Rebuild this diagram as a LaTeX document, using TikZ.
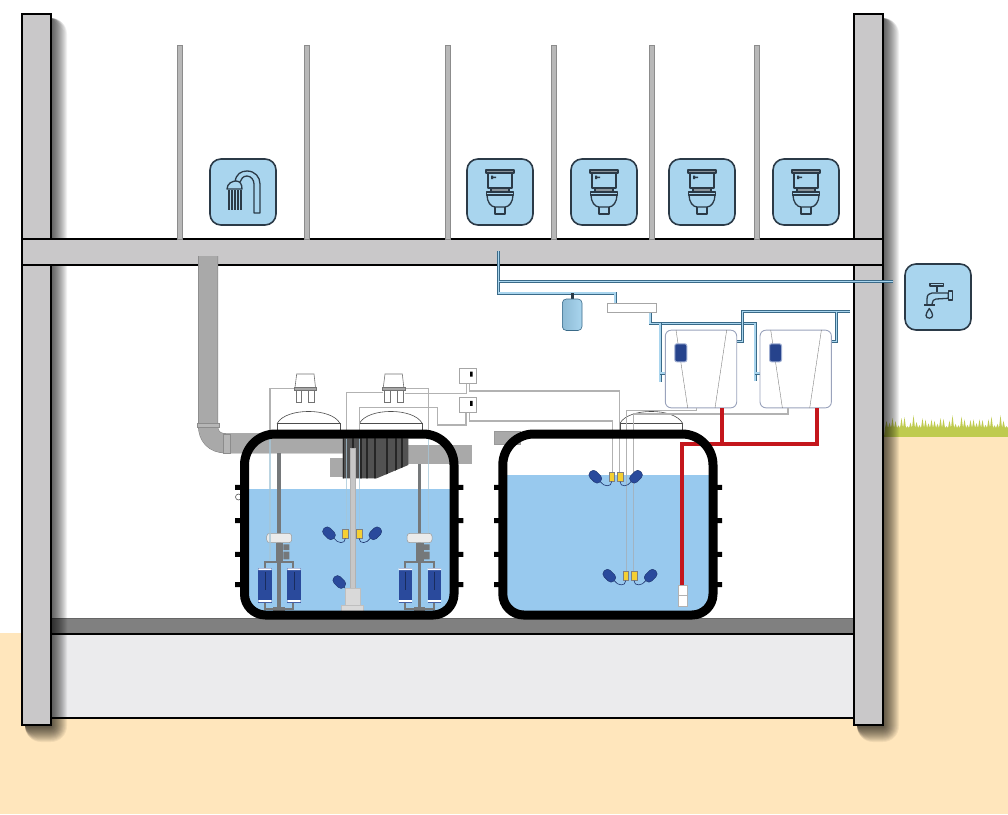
\documentclass[tikz,border=0pt]{standalone}
\definecolor{sand}{HTML}{FFE6BC}
\definecolor{grass}{HTML}{BFCB4F}
\definecolor{wallgrey}{HTML}{C9C8C9}
\definecolor{floorgrey}{HTML}{808080}
\definecolor{footing}{HTML}{EBEBED}
\definecolor{tilefill}{HTML}{A9D5EE}
\definecolor{iconline}{HTML}{2B3A47}
\definecolor{tankwater}{HTML}{98C9EE}
\definecolor{pipeblue}{HTML}{3A6A88}
\definecolor{drain}{HTML}{A9A9A9}
\definecolor{pumpgrey}{HTML}{75787A}
\definecolor{navy}{HTML}{2A4A9C}
\definecolor{clip}{HTML}{F5D033}
\definecolor{redline}{HTML}{C4161C}
\definecolor{softline}{HTML}{9AA3BC}
\tikzset{
  wallbar/.style={draw=black, line width=1.2pt, fill=wallgrey},
  partition/.style={draw=black!45, line width=.5pt, fill=black!28},
  icontile/.style={draw=iconline, line width=1.6pt, fill=tilefill, rounded corners=11pt, minimum size=66pt, inner sep=0pt},
  iconpen/.style={draw=iconline, line width=1.3pt, line join=round},
  waterpipe/.style={draw=pipeblue, line width=.9pt, double=tilefill, double distance=1.2pt},
  wire/.style={draw=black!30, line width=1.3pt},
  palewire/.style={draw=black!12!tilefill!85, line width=1.3pt},
  tankwire/.style={draw=black!35!tankwater!60, line width=1.3pt},
  drainpipe/.style={draw=black!50, line width=.5pt, double=drain, double distance=19pt},
  redpipe/.style={draw=redline, line width=3.8pt},
  floatball/.style={draw=navy!70!black, line width=.4pt, fill=navy, rounded corners=4pt, minimum width=9pt, minimum height=14pt, inner sep=0pt},
  clipbox/.style={draw=black!50, line width=.4pt, fill=clip, minimum width=5.5pt, minimum height=9pt, inner sep=0pt},
  cable/.style={draw=navy!70!black, line width=.6pt},
  softener/.style={draw=softline, line width=.9pt, fill=white, rounded corners=6pt, minimum width=71.4pt, minimum height=77.7pt, inner sep=0pt},
  ctrlbox/.style={draw=black!35, line width=.7pt, fill=white, minimum width=17.4pt, minimum height=15pt, inner sep=0pt},
  pics/toileticon/.style={code={
    \draw[iconpen] (-12,-19) rectangle (12,-4);
    \draw[iconpen, fill=iconline!55] (-14,-22) rectangle (14,-19);
    \draw[iconpen, fill=iconline!55] (-9,-4) rectangle (9,0);
    \draw[iconpen] (-13.5,0) rectangle (13.5,3);
    \draw[iconpen] (-13,3) .. controls (-13,10) and (-9,15) .. (-5,15) -- (5,15) .. controls (9,15) and (13,10) .. (13,3);
    \draw[iconpen] (-5,15) -- (-5,22) -- (5,22) -- (5,15);
    \fill[iconline] (-9,-15.5) rectangle (-4,-14) (-9,-16.5) rectangle (-7,-13);
  }},
  pics/showericon/.style={code={
    \draw[iconpen] (-8,-10) .. controls (-7,-18) and (-2,-21) .. (4,-21) .. controls (12,-21) and (17,-15) .. (17,-8) -- (17,21) -- (11,21) -- (11,-8) .. controls (11,-12) and (8,-16) .. (4,-16) .. controls (0,-16) and (-2,-13) .. (-3,-10);
    \draw[iconpen, fill=tilefill] (-16,-3) .. controls (-16,-9) and (-10,-11) .. (-7,-11) .. controls (-3,-11) and (-1,-8) .. (-1,-3) -- cycle;
    \foreach \bx in {-14,-11,-8,-5,-2} {\draw[iconline, line width=1.2pt] (\bx,-2) -- (\bx,18);}
  }},
  pics/tapicon/.style={code={
    \draw[iconpen] (-8,-13.7) -- (5.5,-13.7) -- (5.5,-11) -- (-8,-11) -- cycle;
    \draw[iconpen] (-1,-11) -- (-1,-5);
    \draw[iconpen] (-11,7) -- (-11,2) .. controls (-11,-2) and (-9,-4) .. (-6,-4) -- (10.3,-4) -- (10.3,1.3) -- (-2,2) .. controls (-4,2) and (-6,4) .. (-6,7);
    \draw[iconpen] (10.3,-6) rectangle (14.7,3);
    \draw[iconpen] (-14,8) -- (-3,8);
    \draw[iconpen] (-8.7,11.5) .. controls (-11,15) and (-12,17) .. (-12,18.5) .. controls (-12,22) and (-5.4,22) .. (-5.4,18.5) .. controls (-5.4,17) and (-6.4,15) .. (-8.7,11.5) -- cycle;
  }},
  pics/capunit/.style={code={
    \draw[draw=black!55, line width=.6pt, fill=white] (-8.8,374) -- (8.5,374) -- (10,387.3) -- (-10.5,387.3) -- cycle;
    \draw[draw=black!55, line width=.6pt, fill=black!35] (-11.5,387.3) rectangle (11.2,390);
    \draw[draw=black!55, line width=.6pt, fill=white] (-9.5,390) rectangle (-4,402.3);
    \draw[draw=black!55, line width=.6pt, fill=white] (3,390) rectangle (9,402.3);
  }},
  pics/manhole/.style={code={
    \draw[draw=black!70, line width=.6pt, fill=white] (-31.3,423.3) .. controls (-23,407.5) and (23,407.5) .. (31.3,423.3) -- cycle;
    \draw[draw=black!70, line width=.6pt, fill=white] (-31.3,423.3) rectangle (31.3,431);
  }},
  pics/softenerfront/.style={code={
    \draw[black!50, line width=.4pt] (-25,-39) -- (-13.3,39) (25.7,-39) -- (14,39);
    \draw[draw=navy!45, line width=1pt, fill=navy!90!black, rounded corners=2pt] (-26.2,-25.2) rectangle (-14.2,-7.2);
  }},
  pics/pump/.style={code={
    \draw[draw=pumpgrey, line width=2pt] (-14,568) -- (-14,562) -- (14.3,562) -- (14.3,568);
    \draw[draw=pumpgrey, line width=2pt] (-14,603) -- (-14,609) -- (14.3,609) -- (14.3,603);
    \foreach \cx in {-14,15} {
      \fill[navy] (\cx-6.7,568.3) rectangle (\cx+6.7,603.3);
      \fill[white] (\cx-6.7,568.3) rectangle (\cx+6.7,570) (\cx-6.7,600) rectangle (\cx+6.7,602);
      \draw[navy!60!black, line width=.5pt] (\cx,572) -- (\cx,590);
    }
    \fill[pumpgrey] (-3,542.7) rectangle (4.3,561.7);
    \fill[pumpgrey] (4.3,544.3) rectangle (10.3,550) (4.3,551.7) rectangle (10.3,559.3);
    \draw[draw=black!40, line width=.5pt, fill=black!8, rounded corners=3pt] (-12.3,533.3) rectangle (12.7,542.7);
    \fill[pumpgrey] (-5.7,607.3) rectangle (6,612.3);
  }},
}
\newcommand{\tankpath}[2]{(#1,520) [rounded corners=31pt] -- (#1,434) -- (#2,434) -- (#2,520) [rounded corners=21pt] -- (#2,615) -- (#1,615) -- cycle}
\begin{document}
\begin{tikzpicture}[x=1pt, y=-1pt]
\useasboundingbox (0,0) rectangle (1008,814);
\fill[white] (0,0) rectangle (1008,814);

\fill[grass] (884,437)
  \foreach \gx [evaluate=\gx as \gy using {421+4*sin((\gx-885)*37)+2*sin((\gx-885)*91)}] in {885,888,...,1005} { -- (\gx,428) -- (\gx+1.5,\gy) }
  -- (1008,428) -- (1008,437) -- cycle;
\fill[sand] (884,437) rectangle (1008,814);
\fill[sand] (0,633) rectangle (884,814);

\fill[footing] (51,634) rectangle (854,718);
\draw[black, line width=1.2pt] (51,718) -- (854,718);
\fill[floorgrey] (51,618) rectangle (854,634);
\draw[black, line width=1.2pt] (51,634) -- (854,634);
\draw[black!60, line width=.6pt] (51,618) -- (854,618);

\foreach \wx in {22,854} {
  \foreach \r in {1,...,16} {
    \fill[black, opacity=.055, rounded corners=\r pt] (\wx+3,18) rectangle (\wx+29+\r,726+\r);
  }
  \draw[wallbar] (\wx,14) rectangle (\wx+29,725);
}
\draw[wallbar] (22,239) rectangle (883,265);

\foreach \px in {180,307,448,554,652,757} {
  \draw[partition] (\px-2.5,45) rectangle (\px+2.5,239);
}

\node (showertile) at (243,192) [icontile] {};
\pic at (showertile) {showericon};
\foreach \name/\wcx in {wca/500,wcb/604,wcc/702,wcd/806} {
  \node (\name) at (\wcx,192) [icontile] {};
  \pic at (\name) {toileticon};
}
\node (taptile) at (938,297) [icontile] {};
\pic at (taptile) {tapicon};

\draw[waterpipe] (498.5,251) -- (498.5,293) -- (615,293) -- (615,303);
\draw[waterpipe] (498.5,281.7) -- (893,281.7);
\draw[waterpipe] (650,312) -- (650,323.3) -- (755,323.3) -- (755,381);
\draw[waterpipe] (755,373) -- (760,373);
\draw[waterpipe] (660,323.3) -- (660,382);
\draw[waterpipe] (660,373) -- (665,373);
\draw[waterpipe] (850,311.7) -- (742.3,311.7) -- (742.3,341.7) -- (736.7,341.7);
\draw[waterpipe] (836.7,311.7) -- (836.7,341.7) -- (831.7,341.7);

\node (header) at (632.2,307.5) [draw=black!35, line width=.7pt, fill=white, minimum width=49pt, minimum height=9pt, inner sep=0pt] {};
\fill[iconline] (570.5,293) rectangle (573.5,299);
\draw[draw=pipeblue, line width=.6pt, left color=tilefill!75!pipeblue, right color=tilefill, rounded corners=4pt] (562.3,299) rectangle (582,330.5);

\node (softa) at (701,369) [softener] {};
\node (softb) at (795.7,369) [softener] {};
\pic at (softa) {softenerfront};
\pic at (softb) {softenerfront};

\pic at (308.6,0) {manhole};
\pic at (390.8,0) {manhole};
\pic at (651.3,0) {manhole};

\draw[draw=black!65, line width=.6pt, fill=white] (238.5,497) circle (3pt);
\fill[white] \tankpath{244.5}{454};
\fill[white] \tankpath{502.8}{713};
\begin{scope}
\clip \tankpath{244.5}{454};
\fill[tankwater] (240,489.3) rectangle (460,620);
\end{scope}
\begin{scope}
\clip \tankpath{502.8}{713};
\fill[tankwater] (498,474.7) rectangle (718,620);
\end{scope}

\draw[drainpipe] (208,256) -- (208,425) .. controls (208,436) and (214,443.3) .. (226,443.3) -- (343,443.3);
\draw[draw=black!45, line width=.5pt, fill=drain!85] (197.3,423.3) rectangle (219.3,427.3);
\draw[draw=black!45, line width=.5pt, fill=drain!85] (223,433.8) rectangle (230,452.8);
\fill[drain] (406.7,445) rectangle (471.7,464.3);
\fill[drain] (330,458.3) rectangle (343.3,477.3);
\draw[draw=black!40, line width=.4pt, fill=drain] (494,431) rectangle (520,444.3);

\begin{scope}
\clip (342.7,438.3) -- (408.3,438.3) -- (408.3,465) -- (376.7,478.3) -- (342.7,478.3) -- cycle;
\fill[black!68] (340,436) rectangle (410,480);
\foreach \sx in {342.7,352,360,366,374,386,395,401} {
  \fill[black!85] (\sx,436) rectangle (\sx+1.6,480);
}
\end{scope}

\foreach \px/\top in {279/452.7,419.3/464.3} {
  \fill[pumpgrey] (\px-1.8,\top) rectangle (\px+1.8,610);
  \pic at (\px,0) {pump};
}

\draw[wire] (294,388.3) -- (270,388.3) -- (270,432);
\draw[wire] (383,392.7) -- (346.7,392.7) -- (346.7,432);
\draw[wire] (405,388.3) -- (428.3,388.3) -- (428.3,432);
\draw[wire] (405,393.3) -- (466.7,393.3) -- (466.7,383.3);
\draw[wire] (466,412.7) -- (466,425) -- (437.3,425) -- (437.3,407.7) -- (359.3,407.7) -- (359.3,432);
\draw[wire] (469.5,383.3) -- (469.5,391) -- (619.3,391) -- (619.3,472);
\draw[wire] (469.5,412.7) -- (469.5,421) -- (612.3,421) -- (612.3,472);
\draw[wire] (696.7,408) -- (696.7,410.7) -- (626.3,410.7) -- (626.3,571.7);
\draw[wire] (788,408) -- (788,414) -- (633.7,414) -- (633.7,571.7);
\foreach \wx/\wy in {270/560,346.7/530,428.3/533,359.3/530} {
  \draw[palewire, opacity=.75] (\wx,432) -- (\wx,\wy);
}
\foreach \wx/\wy in {626.3/571.7,633.7/571.7} {
  \draw[tankwire] (\wx,475) -- (\wx,\wy);
}

\pic at (305.5,0) {capunit};
\pic at (393.8,0) {capunit};
\node (ctrla) at (468,375.8) [ctrlbox] {};
\node (ctrlb) at (468,405.2) [ctrlbox] {};
\fill[black] (470,371.5) rectangle (472.5,376.5) (470,400.8) rectangle (472.5,405.8);

\draw[draw=black!30, line width=.5pt, fill=black!22] (350,448.3) rectangle (354.8,590);
\draw[draw=black!25, line width=.5pt, fill=black!15] (345,588.3) rectangle (360,605);
\draw[draw=black!25, line width=.5pt, fill=black!15] (341.7,605) rectangle (363.3,612.3);

\foreach \name/\fx/\fy/\ang/\yx/\yy/\bx in {
  a/329/533.3/45/345.3/533.8/3,
  b/375.3/533.3/-45/359.2/533.8/-3,
  c/595.3/476.7/45/611.7/476.8/3,
  d/636/476.7/-45/620/476.8/-3,
  e/609.3/575.7/45/625.7/576/3,
  f/650.7/575.7/-45/634/576/-3} {
  \node (float\name) at (\fx,\fy) [floatball, rotate=\ang] {};
  \node (clip\name) at (\yx,\yy) [clipbox] {};
  \draw[cable] (float\name.south) .. controls +(\bx,5) and +(0,6) .. (clip\name.south);
}
\node (floatg) at (339.3,582) [floatball, rotate=45] {};
\draw[cable] (floatg.south) -- (345,588.3);

\draw[redpipe] (722.3,408) -- (722.3,444);
\draw[redpipe] (816.7,408) -- (816.7,444) -- (682,444) -- (682,585);
\draw[draw=black!30, line width=.6pt, fill=white] (678.3,585) rectangle (687.3,606);
\draw[black!30, line width=.6pt] (678.3,595.7) -- (687.3,595.7);

\draw[black, line width=9pt] \tankpath{244.5}{454};
\draw[black, line width=9pt] \tankpath{502.8}{713};
\foreach \rib in {487.3,520.7,554.3,584.7} {
  \fill[black] (235,\rib-2.5) rectangle (241,\rib+2.5) (457.5,\rib-2.5) rectangle (463.3,\rib+2.5);
  \fill[black] (494,\rib-2.5) rectangle (499,\rib+2.5) (716.5,\rib-2.5) rectangle (722,\rib+2.5);
}
\end{tikzpicture}
\end{document}
